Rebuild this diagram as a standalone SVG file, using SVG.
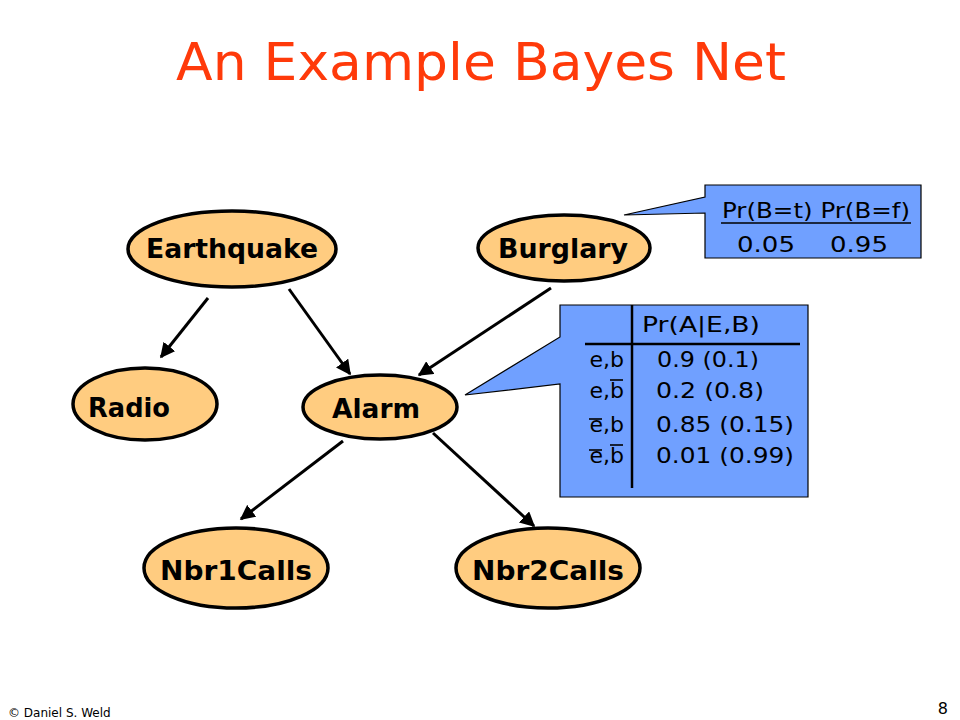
<svg xmlns="http://www.w3.org/2000/svg" width="960" height="720" viewBox="0 0 960 720">
<style>
.node ellipse{fill:#FFCC80;stroke:#000;stroke-width:3.5}
.node text{font-family:"Comic Sans MS","DejaVu Sans",sans-serif;font-weight:bold;font-size:26px;fill:#000}
.edge{stroke:#000;stroke-width:3;fill:none;marker-end:url(#arr)}
.callout{fill:#70A0FF;stroke:#000;stroke-width:1.2}
.ct{font-family:"Comic Sans MS","DejaVu Sans",sans-serif;font-size:22px;fill:#000}
.bar{stroke:#000;stroke-width:1.6}
</style>
<defs>
<marker id="arr" viewBox="0 0 10 10" refX="9" refY="5" markerWidth="5" markerHeight="5" orient="auto" markerUnits="strokeWidth">
<path d="M0,0 L10,5 L0,10 z" fill="#000"/>
</marker>
</defs>
<rect width="960" height="720" fill="#fff"/>
<text x="481" y="80" text-anchor="middle" font-family="'Comic Sans MS','DejaVu Sans',sans-serif" font-size="52" fill="#FF3A0A" textLength="610" lengthAdjust="spacingAndGlyphs">An Example Bayes Net</text>

<g id="connectors">
<line class="edge" x1="208" y1="298" x2="161" y2="357"/>
<line class="edge" x1="289" y1="289" x2="350" y2="374"/>
<line class="edge" x1="551" y1="288" x2="419" y2="375"/>
<line class="edge" x1="343" y1="441" x2="241" y2="519"/>
<line class="edge" x1="433" y1="433" x2="534" y2="526"/>
</g>

<g id="earthquake" class="node"><ellipse cx="232" cy="249" rx="104" ry="38"/><text x="232" y="258" text-anchor="middle" textLength="172" lengthAdjust="spacingAndGlyphs">Earthquake</text></g>
<g id="burglary" class="node"><ellipse cx="564" cy="248" rx="86" ry="33"/><text x="563" y="258" text-anchor="middle" textLength="130" lengthAdjust="spacingAndGlyphs">Burglary</text></g>
<g id="radio" class="node"><ellipse cx="145" cy="404" rx="72" ry="36"/><text x="88" y="417" textLength="82" lengthAdjust="spacingAndGlyphs">Radio</text></g>
<g id="alarm" class="node"><ellipse cx="380" cy="407" rx="77" ry="32"/><text x="376" y="418" text-anchor="middle" textLength="88" lengthAdjust="spacingAndGlyphs">Alarm</text></g>
<g id="nbr1calls" class="node"><ellipse cx="236" cy="568" rx="92" ry="40"/><text x="236" y="580" text-anchor="middle" textLength="152" lengthAdjust="spacingAndGlyphs">Nbr1Calls</text></g>
<g id="nbr2calls" class="node"><ellipse cx="548" cy="568" rx="92" ry="40"/><text x="548" y="580" text-anchor="middle" textLength="152" lengthAdjust="spacingAndGlyphs">Nbr2Calls</text></g>

<g id="cpt-burglary">
<path class="callout" d="M705,185 H921 V258 H705 V213 L624,215 L705,197 Z"/>
<text class="ct" x="722" y="218" textLength="188" lengthAdjust="spacingAndGlyphs">Pr(B=t) Pr(B=f)</text>
<line x1="721" y1="223" x2="911" y2="223" stroke="#000" stroke-width="1.5"/>
<text class="ct" x="737" y="252" textLength="58" lengthAdjust="spacingAndGlyphs">0.05</text>
<text class="ct" x="830" y="252" textLength="58" lengthAdjust="spacingAndGlyphs">0.95</text>
</g>

<g id="cpt-alarm">
<path class="callout" d="M560,305 H808 V497 H560 V384 L465,395 L560,337 Z"/>
<line x1="632" y1="305" x2="632" y2="488" stroke="#000" stroke-width="2.5"/>
<line x1="585" y1="344" x2="800" y2="344" stroke="#000" stroke-width="2.5"/>
<text class="ct" x="642" y="332" textLength="118" lengthAdjust="spacingAndGlyphs">Pr(A|E,B)</text>
<text class="ct" x="624" y="367" text-anchor="end">e,b</text>
<text class="ct" x="624" y="398" text-anchor="end">e,b</text>
<text class="ct" x="624" y="432" text-anchor="end">e,b</text>
<text class="ct" x="624" y="463" text-anchor="end">e,b</text>
<line class="bar" x1="610" y1="380" x2="623" y2="380"/>
<line class="bar" x1="589" y1="419" x2="602" y2="419"/>
<line class="bar" x1="589" y1="450" x2="602" y2="450"/>
<line class="bar" x1="610" y1="445" x2="623" y2="445"/>
<text class="ct" x="657" y="367" textLength="102" lengthAdjust="spacingAndGlyphs">0.9 (0.1)</text>
<text class="ct" x="656" y="398" textLength="108" lengthAdjust="spacingAndGlyphs">0.2 (0.8)</text>
<text class="ct" x="656" y="432" textLength="138" lengthAdjust="spacingAndGlyphs">0.85 (0.15)</text>
<text class="ct" x="656" y="463" textLength="138" lengthAdjust="spacingAndGlyphs">0.01 (0.99)</text>
</g>

<text x="8" y="717" font-family="'Comic Sans MS','DejaVu Sans',sans-serif" font-size="12" fill="#000">© Daniel S. Weld</text>
<text x="948" y="714" text-anchor="end" font-family="'Comic Sans MS','DejaVu Sans',sans-serif" font-size="16" fill="#000">8</text>
</svg>
